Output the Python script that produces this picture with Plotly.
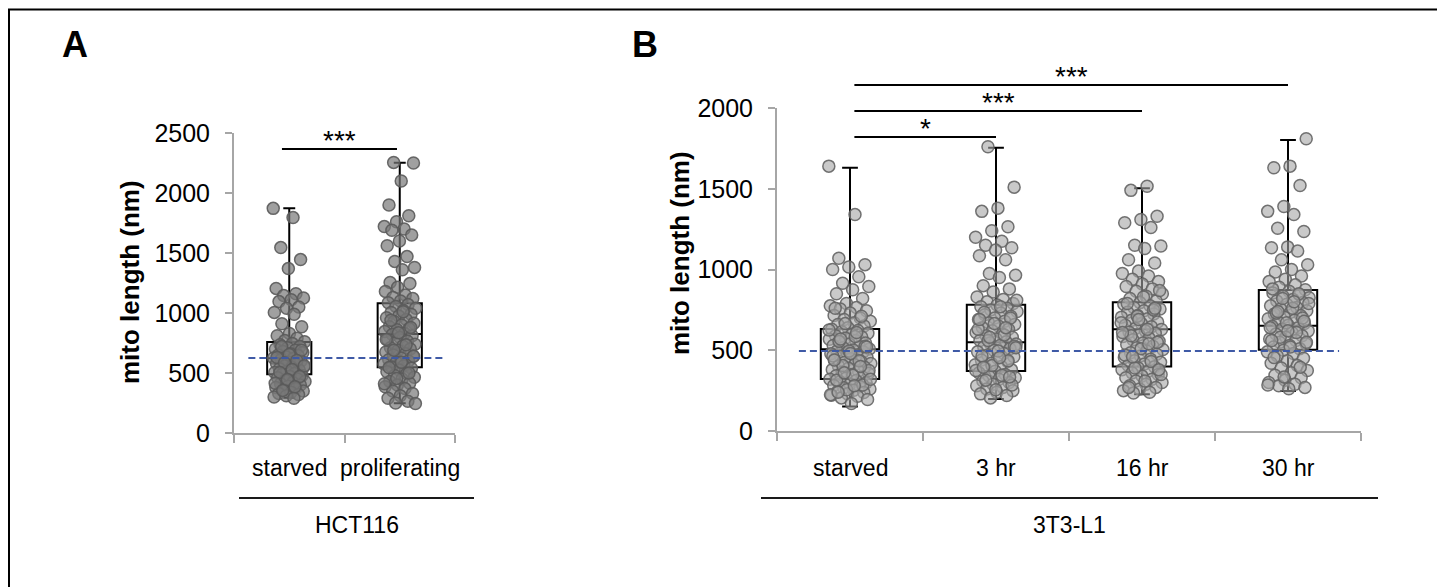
import plotly.graph_objects as go

W, H = 1445, 587
OFF = 8  # page body margin added by the browser around the plot div

# ---------------- data ----------------
a_categories = ["starved", "proliferating"]
b_categories = ["starved", "3 hr", "16 hr", "30 hr"]
a_group = "HCT116"
b_group = "3T3-L1"
y_title = "mito length (nm)"

a_starved = [1872, 1795, 1545, 1445, 1370, 1205, 1160, 1145, 1125, 1110, 1095, 1050, 1040, 1005, 990,
             910, 885, 830, 810, 790, 770, 760, 745, 735, 720, 710, 700, 690, 680, 670, 660, 650, 645,
             635, 625, 620, 612, 600, 590, 580, 570, 560, 552, 545, 535, 525, 515, 505, 495, 490, 480,
             470, 460, 450, 440, 430, 420, 410, 400, 390, 380, 370, 360, 350, 340, 330, 320, 310, 300, 290,
             720, 690, 655, 630, 605, 585, 560, 530, 505, 470, 445, 415, 385, 355]
a_proliferating = [2255, 2250, 2100, 1900, 1810, 1760, 1720, 1700, 1690, 1650, 1600, 1560, 1470, 1430,
                   1380, 1360, 1255, 1245, 1215, 1180, 1150, 1130, 1120, 1100, 1085, 1070, 1055, 1040,
                   1020, 1005, 990, 975, 960, 945, 930, 915, 900, 885, 870, 860, 845, 830, 820, 810, 795,
                   780, 765, 750, 740, 725, 710, 700, 690, 675, 660, 650, 640, 625, 610, 600, 590, 575,
                   560, 550, 540, 525, 510, 495, 480, 465, 450, 430, 415, 400, 385, 370, 350, 330, 310,
                   290, 265, 250, 245, 1010, 940, 880, 835, 780, 735, 690, 640, 590, 545, 500, 455, 410]
b_starved = [1640, 1340, 1070, 1030, 1015, 1000, 955, 915, 895, 875, 850, 820, 790, 775, 765, 755, 745,
             730, 715, 700, 690, 680, 670, 660, 650, 640, 630, 622, 615, 605, 598, 590, 582, 575, 568,
             560, 552, 545, 538, 530, 522, 515, 508, 502, 496, 490, 484, 478, 470, 462, 455, 448, 440,
             432, 425, 418, 410, 402, 395, 388, 380, 372, 365, 358, 350, 342, 335, 328, 320, 312, 305,
             298, 290, 282, 275, 268, 260, 252, 245, 238, 230, 222, 215, 205, 195, 170,
             760, 710, 665, 625, 585, 555, 525, 495, 465, 435, 405, 375, 345, 315, 285, 255, 225,
             610, 570, 520, 480, 440, 400, 360, 320, 280, 240]
b_3hr = [1760, 1510, 1380, 1360, 1265, 1240, 1200, 1175, 1150, 1135, 1120, 1085, 1060, 975, 965, 950, 900,
         880, 860, 830, 815, 800, 790, 780, 770, 760, 750, 740, 730, 720, 710, 700, 690, 680, 670, 660,
         650, 640, 630, 620, 610, 600, 590, 580, 570, 560, 552, 545, 538, 530, 520, 510, 500, 490, 480,
         470, 460, 450, 440, 430, 420, 410, 400, 390, 380, 370, 360, 350, 340, 330, 320, 310, 300, 290,
         280, 270, 260, 250, 240, 230, 220, 205,
         810, 770, 735, 700, 665, 630, 595, 560, 525, 495, 465, 435, 405, 375, 345, 315, 285, 255,
         690, 640, 580, 515, 455, 395, 335]
b_16hr = [1515, 1490, 1330, 1310, 1290, 1260, 1150, 1145, 1130, 1060, 1040, 990, 975, 960, 940, 925, 910,
          895, 880, 865, 850, 835, 820, 805, 795, 785, 775, 765, 755, 745, 735, 725, 715, 705, 695, 685,
          675, 665, 655, 645, 635, 628, 620, 612, 605, 595, 585, 575, 565, 555, 545, 535, 525, 515, 505,
          495, 485, 475, 465, 455, 445, 435, 425, 415, 405, 398, 390, 380, 370, 360, 350, 340, 330, 320,
          310, 300, 290, 280, 270, 260, 250, 240, 235,
          870, 830, 790, 750, 710, 670, 630, 590, 550, 510, 470, 430, 390, 350, 310, 270,
          760, 690, 610, 540, 460, 380]
b_30hr = [1810, 1640, 1630, 1520, 1390, 1360, 1340, 1255, 1235, 1140, 1135, 1115, 1060, 1030, 1000, 985,
          960, 940, 925, 905, 890, 875, 865, 855, 845, 835, 825, 815, 805, 795, 785, 775, 765, 755, 745,
          735, 725, 715, 705, 695, 685, 675, 665, 655, 648, 640, 630, 620, 610, 600, 590, 580, 570, 560,
          550, 540, 530, 520, 510, 500, 490, 480, 465, 450, 435, 420, 405, 390, 375, 360, 345, 330, 315,
          300, 290, 280, 270, 262,
          880, 850, 820, 790, 760, 730, 700, 670, 640, 610, 580, 550, 520, 455, 395, 335, 285,
          800, 740, 680, 620, 560]

a_q1 = [489, 547]
a_median = [622, 825]
a_q3 = [758, 1081]
a_lower = [294, 247]
a_upper = [1872, 2253]

b_q1 = [322, 371, 400, 503]
b_median = [506, 549, 630, 652]
b_q3 = [632, 782, 797, 873]
b_lower = [151, 198, 227, 248]
b_upper = [1630, 1754, 1503, 1802]

a_reference = 625
b_reference = 495

a_yticks = [0, 500, 1000, 1500, 2000, 2500]
b_yticks = [0, 500, 1000, 1500, 2000]

# significance: (from index, to index, label)
a_sig = [(0, 1, "***")]
b_sig = [(0, 1, "*"), (0, 2, "***"), (0, 3, "***")]

# ---------------- style / layout helpers ----------------
FONT = "Liberation Sans, Arial, sans-serif"
GRAY_AXIS = "#a6a6a6"
FW, FH = W - OFF, H - OFF


def px_x(p):
    return (p - OFF) / FW


def px_y(p):
    return 1 - (p - OFF) / FH


panels = [
    dict(xa="x", ya="y", xname="xaxis", yname="yaxis", cats=a_categories, vals=[a_starved, a_proliferating],
         q1=a_q1, med=a_median, q3=a_q3, lo=a_lower, hi=a_upper, ref=a_reference, yticks=a_yticks,
         sig=a_sig, xdom=(234, 455), ydom=(433, 133), yr=2500, fill="rgba(120,120,120,0.7)",
         edge="rgba(90,90,90,0.9)", ref_span=(-0.37, 1.41), sig_y=[2367], sig_off=(-0.066, -0.025),
         group=a_group, gline=(239, 474), title_x=130, title_y=282, letter="A", letter_x=75),
    dict(xa="x2", ya="y2", xname="xaxis2", yname="yaxis2", cats=b_categories,
         vals=[b_starved, b_3hr, b_16hr, b_30hr],
         q1=b_q1, med=b_median, q3=b_q3, lo=b_lower, hi=b_upper, ref=b_reference, yticks=b_yticks,
         sig=b_sig, xdom=(777, 1361), ydom=(431, 108), yr=2000, fill="rgba(165,165,165,0.6)",
         edge="rgba(100,100,100,0.9)", ref_span=(-0.35, 3.35), sig_y=[1820, 1981, 2142],
         sig_off=(0.03, 0.0), group=b_group, gline=(761, 1378), title_x=680, title_y=253,
         letter="B", letter_x=645),
]

fig = go.Figure()
annotations = []
shapes = []
layout_axes = {}

for p in panels:
    n = len(p["cats"])
    x0d, x1d = px_x(p["xdom"][0]), px_x(p["xdom"][1])
    y0d, y1d = px_y(p["ydom"][0]), px_y(p["ydom"][1])

    def xpaper(v, n=n, x0d=x0d, x1d=x1d):
        return x0d + (v + 0.5) / n * (x1d - x0d)

    def ypaper(v, yr=p["yr"], y0d=y0d, y1d=y1d):
        return y0d + v / yr * (y1d - y0d)

    # jittered points
    for ci, vals in enumerate(p["vals"]):
        xs = [ci + (((i * 0.6180339887 + ci * 0.31) % 1.0) * 2 - 1) * 0.145 for i in range(len(vals))]
        fig.add_trace(go.Scatter(
            x=xs, y=vals, mode="markers", xaxis=p["xa"], yaxis=p["ya"], showlegend=False,
            marker=dict(size=12, color=p["fill"], line=dict(color=p["edge"], width=1.5)),
            hoverinfo="y"))
    # boxes
    fig.add_trace(go.Box(
        x=list(range(n)), q1=p["q1"], median=p["med"], q3=p["q3"],
        lowerfence=p["lo"], upperfence=p["hi"], xaxis=p["xa"], yaxis=p["ya"],
        width=0.4, whiskerwidth=0.27, boxpoints=False, showlegend=False,
        fillcolor="rgba(0,0,0,0)", line=dict(color="black", width=2)))
    # reference dashed line
    fig.add_trace(go.Scatter(
        x=list(p["ref_span"]), y=[p["ref"], p["ref"]], mode="lines", xaxis=p["xa"], yaxis=p["ya"],
        showlegend=False, line=dict(color="#3f5aa6", width=2, dash="7px,4px"), hoverinfo="skip"))
    # significance bars (paper coords so they can sit above the axis range)
    for (i0, i1, lab), yv in zip(p["sig"], p["sig_y"]):
        xa_ = i0 + p["sig_off"][0]
        xb_ = i1 + p["sig_off"][1]
        shapes.append(dict(type="line", xref="paper", yref="paper", x0=xpaper(xa_), x1=xpaper(xb_),
                           y0=ypaper(yv), y1=ypaper(yv), line=dict(color="black", width=2)))
        annotations.append(dict(
            x=xpaper((xa_ + xb_) / 2), y=ypaper(yv), xref="paper", yref="paper",
            text=lab, showarrow=False, xanchor="center", yanchor="bottom", yshift=-9,
            font=dict(family=FONT, size=28, color="black")))
    # category labels
    for ci, c in enumerate(p["cats"]):
        annotations.append(dict(
            x=xpaper(ci), y=px_y(468), xref="paper", yref="paper", text=c, showarrow=False,
            xanchor="center", yanchor="middle",
            font=dict(family=FONT, size=23, color="black")))
    # group line + label
    shapes.append(dict(type="line", xref="paper", yref="paper", x0=px_x(p["gline"][0]),
                       x1=px_x(p["gline"][1]), y0=px_y(498), y1=px_y(498),
                       line=dict(color="#1a1a1a", width=2)))
    annotations.append(dict(
        x=px_x((p["gline"][0] + p["gline"][1]) / 2), y=px_y(525), xref="paper", yref="paper",
        text=p["group"], showarrow=False, xanchor="center", yanchor="middle",
        font=dict(family=FONT, size=23, color="black")))
    # y title
    annotations.append(dict(
        x=px_x(p["title_x"]), y=px_y(p["title_y"]), xref="paper", yref="paper",
        text="<b>" + y_title + "</b>", textangle=-90, showarrow=False,
        xanchor="center", yanchor="middle",
        font=dict(family=FONT, size=26, color="black")))
    # panel letter
    annotations.append(dict(
        x=px_x(p["letter_x"]), y=px_y(45), xref="paper", yref="paper",
        text="<b>" + p["letter"] + "</b>", showarrow=False, xanchor="center", yanchor="middle",
        font=dict(family=FONT, size=36, color="black")))

    layout_axes[p["xname"]] = dict(
        domain=[x0d, x1d], range=[-0.5, n - 0.5], automargin=False,
        anchor=p["ya"], showline=True, linecolor=GRAY_AXIS, linewidth=2,
        tickmode="array", tickvals=[k - 0.5 for k in range(n + 1)],
        ticktext=["" for _ in range(n + 1)], ticks="outside", ticklen=8, tickwidth=2,
        tickcolor=GRAY_AXIS, showgrid=False, zeroline=False, fixedrange=True)
    layout_axes[p["yname"]] = dict(
        domain=[y0d, y1d], range=[0, p["yr"]], automargin=False,
        anchor=p["xa"], showline=True, linecolor=GRAY_AXIS, linewidth=2,
        tickmode="array", tickvals=p["yticks"], ticks="outside", ticklen=7, tickwidth=2,
        tickcolor=GRAY_AXIS, ticklabelstandoff=10, showgrid=False, zeroline=False,
        tickfont=dict(family=FONT, size=25, color="black"), fixedrange=True)

# outer frame (left edge kept just inside the drawing area)
shapes.append(dict(type="rect", xref="paper", yref="paper", x0=px_x(9), x1=px_x(1440),
                   y0=px_y(620), y1=px_y(9.5), line=dict(color="black", width=2)))

fig.update_layout(
    template="none",
    width=FW, height=FH, margin=dict(l=0, r=0, t=0, b=0, pad=0), autosize=False,
    paper_bgcolor="white", plot_bgcolor="white",
    font=dict(family=FONT, color="black"),
    annotations=annotations, shapes=shapes, showlegend=False,
    **layout_axes)

fig.write_html("out.html")
